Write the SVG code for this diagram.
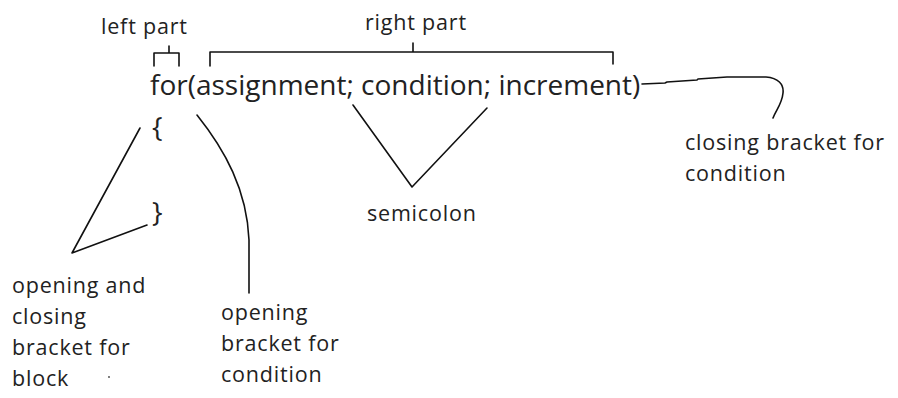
<svg xmlns="http://www.w3.org/2000/svg" width="898" height="398" viewBox="0 0 898 398">
<style>
text{font-family:"Open Sans","Noto Sans","Liberation Sans",sans-serif;fill:#222}
.lbl{font-size:21.5px;letter-spacing:0.8px}
.code{font-size:28px}
.ln{fill:none;stroke:#111;stroke-width:1.6;stroke-linejoin:round;stroke-linecap:round}
</style>
<rect width="898" height="398" fill="#fff"/>
<g id="code"><text class="code" x="150" y="95">for(assignment; condition; increment)</text></g>
<g id="block-open"><text class="code" x="152" y="137">{</text></g>
<g id="block-close"><text class="code" x="152" y="222">}</text></g>
<g id="left-part"><text class="lbl" x="101" y="34">left part</text></g>
<g id="right-part"><text class="lbl" x="365" y="30">right part</text></g>
<g id="closing-bracket-label"><text class="lbl" x="685" y="150">closing bracket for</text><text class="lbl" x="685" y="181">condition</text></g>
<g id="semicolon-label"><text class="lbl" x="367" y="221">semicolon</text></g>
<g id="block-label"><text class="lbl" x="12" y="293">opening and</text><text class="lbl" x="12" y="324">closing</text><text class="lbl" x="12" y="355">bracket for</text><text class="lbl" x="12" y="386">block</text></g>
<g id="opening-bracket-label"><text class="lbl" x="221" y="320">opening</text><text class="lbl" x="221" y="351">bracket for</text><text class="lbl" x="221" y="382">condition</text></g>
<g id="connectors">
<path class="ln" d="M154 66V53H179V66M169 53V46"/>
<path class="ln" d="M210 66V52H613V64M413 52V43"/>
<path class="ln" d="M642 84L665 83L667 82L697 80L698 79L727 77L766 77C778 78 784 84 783 93C782 104 776 110 773 118"/>
<path class="ln" d="M353 105L412 187L487 108"/>
<path class="ln" d="M140 128L72 253L147 225"/>
<path class="ln" d="M197 115C225 150 247 190 249 240V293"/>
<circle cx="109" cy="377" r="0.9" fill="#444"/>
</g>
</svg>
